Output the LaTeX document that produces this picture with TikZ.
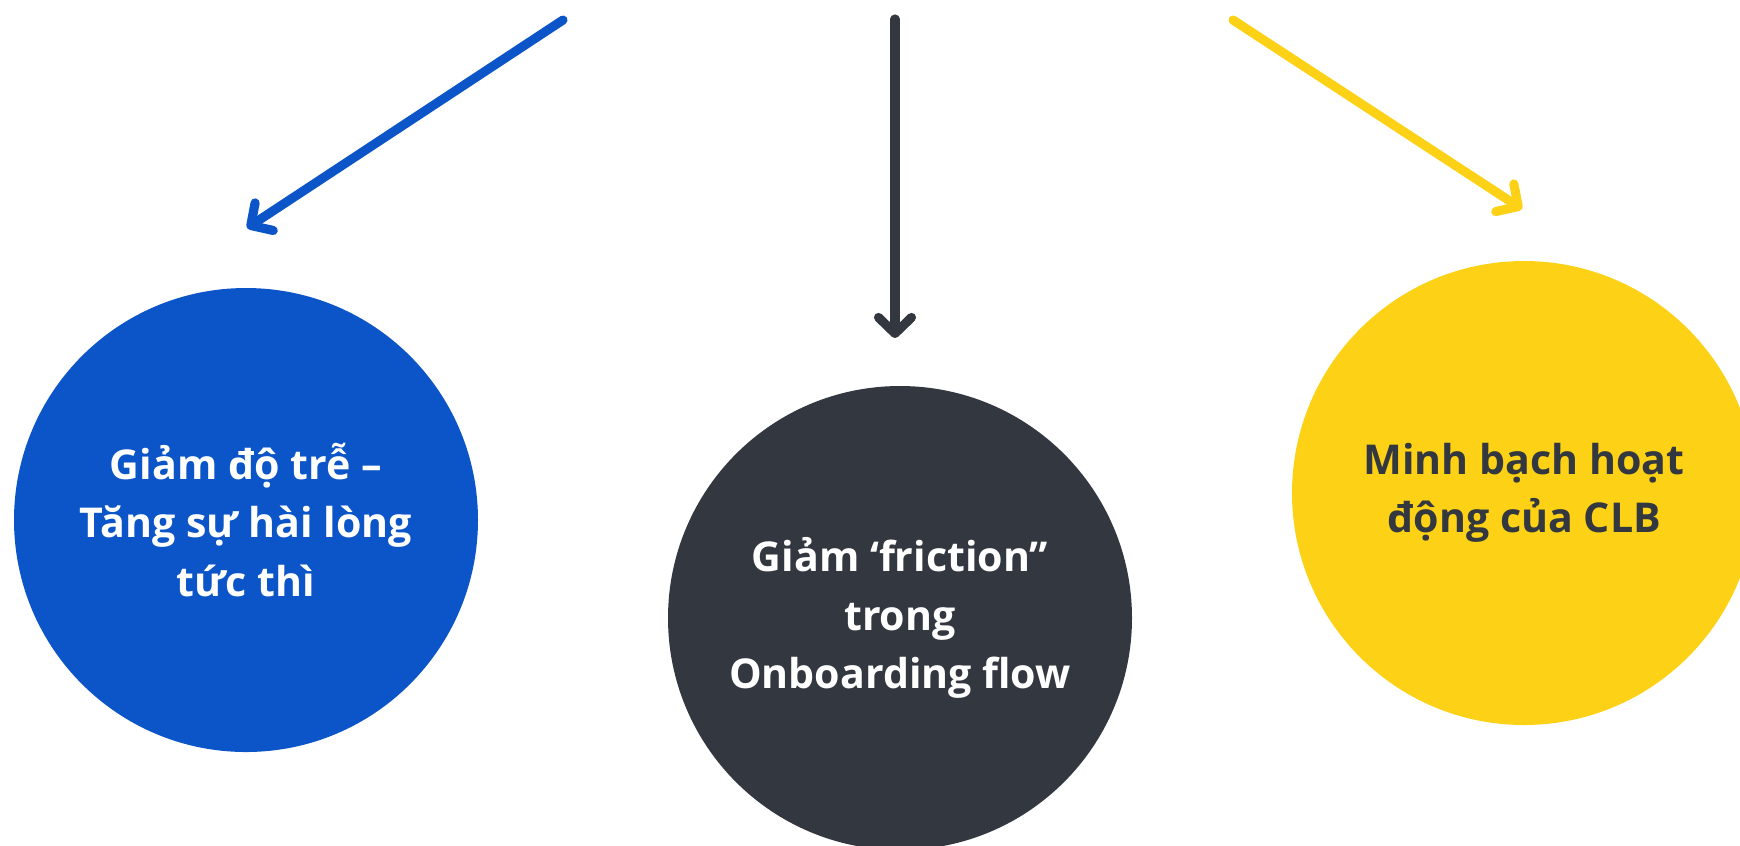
\documentclass[tikz,border=0pt]{standalone}
\usepackage{fontspec}
\setmainfont{Open Sans}
\usepackage{xcolor}
\usetikzlibrary{arrows.meta}

\definecolor{blu}{HTML}{0B55C8}
\definecolor{ink}{HTML}{33373F}
\definecolor{sun}{HTML}{FDD116}

\tikzset{
  goal/.style={circle, minimum size=4.64cm, inner sep=0pt, align=center,
    font=\fontsize{11.7}{16.6}\selectfont\bfseries},
  pointer/.style={line width=2.6pt, line cap=round,
    -{Straight Barb[length=1.6mm, width=3.3mm, line cap=round, line join=round]}}
}

\begin{document}
\begin{tikzpicture}
                \useasboundingbox (0,0) rectangle (17.4,-8.45);
                \clip (0,0) rectangle (17.4,-8.45);
                % the three goals
                \node[goal, fill=blu, text=white] (latency) at (2.46,-5.20)
                    {Giảm độ trễ –\\Tăng sự hài lòng\\tức thì};
                \node[goal, fill=ink, text=white] (friction) at (9.00,-6.18)
                    {Giảm ‘friction”\\trong\\Onboarding flow};
                \node[goal, fill=sun, text=ink] (clarity) at (15.24,-4.93)
                    {Minh bạch hoạt\\động của CLB};
                % arrows coming in from above
                \coordinate (s1) at (5.63,-0.20);
                \coordinate (e1) at (2.47,-2.28);
                \coordinate (s2) at (8.95,-0.19);
                \coordinate (e2) at (8.95,-3.38);
                \coordinate (s3) at (12.33,-0.20);
                \coordinate (e3) at (15.22,-2.09);
                \draw[pointer, blu] (s1) -- (e1);
                \draw[pointer, ink] (s2) -- (e2);
                \draw[pointer, sun] (s3) -- (e3);
            \end{tikzpicture}
\end{document}
